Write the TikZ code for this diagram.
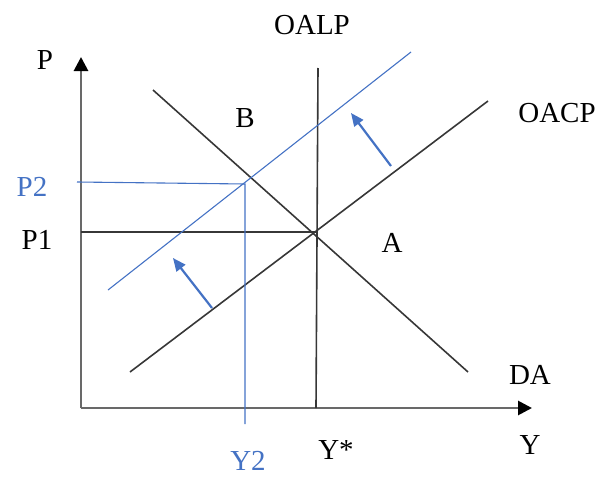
\documentclass[tikz,border=0pt]{standalone}
\usepackage{fontspec}
\setmainfont{Liberation Serif}
\usetikzlibrary{arrows.meta,calc,positioning}
\definecolor{ShiftBlue}{RGB}{68,114,196}
\definecolor{AxisGray}{RGB}{105,105,105}
\definecolor{CurveGray}{RGB}{55,55,55}

\begin{document}
\begin{tikzpicture}[x=1pt,y=-1pt,
  lbl/.style={font=\fontsize{29}{34}\selectfont,inner sep=0pt},
  curve/.style={CurveGray,line width=1.6pt},
  newline/.style={ShiftBlue,line width=1.1pt},
  push/.style={ShiftBlue,line width=2.2pt,-{Triangle[length=13pt,width=11pt]}}]
\useasboundingbox (0,0) rectangle (603,479);

% axes
\coordinate (O) at (81,408);
\coordinate (ytop) at (81,57);
\coordinate (xend) at (532,408);
\draw[AxisGray,line width=2.8pt,-{Triangle[length=14pt,width=14pt,black]}] (O) -- (ytop);
\draw[AxisGray,line width=2.8pt,-{Triangle[length=14pt,width=14pt,black]}] (O) -- (xend);

% curves
\coordinate (A) at (317,232);
\coordinate (da1) at (153,90);
\coordinate (da2) at (468,372);
\coordinate (oacp1) at (130,372);
\coordinate (oacp2) at (488,101);
\coordinate (oalp1) at (318,68);
\coordinate (oalp2) at (316,408);
\coordinate (p1ax) at (81,232);
\draw[curve] (da1) -- (da2);
\draw[curve] (oacp1) -- (oacp2);
\draw[curve] (oalp1) -- (oalp2);
\draw[curve] (p1ax) -- (A);

% shifted supply
\coordinate (new1) at (108,290);
\coordinate (new2) at (411,52);
\coordinate (p2ax) at (77,182);
\coordinate (E2) at (245,184);
\coordinate (y2ax) at (245,424);
\draw[newline] (new1) -- (new2);
\draw[newline] (p2ax) -- (E2) -- (y2ax);
\coordinate (s1) at (391,166);
\coordinate (t1) at (351,113);
\coordinate (s2) at (212,308);
\coordinate (t2) at (173,258);
\draw[push] (s1) -- (t1);
\draw[push] (s2) -- (t2);

% labels
\node[lbl] (labP) at (45,60) {P};
\node[lbl] (labP1) at (37,240) {P1};
\node[lbl,ShiftBlue] (labP2) at (32,187) {P2};
\node[lbl] (labB) at (245,118) {B};
\node[lbl] (labA) at (392,243) {A};
\node[lbl] (labOALP) at (312,25) {OALP};
\node[lbl] (labOACP) at (557,113) {OACP};
\node[lbl] (labDA) at (530,375) {DA};
\node[lbl] (labYs) at (336,450) {Y*};
\node[lbl] (labY) at (530,445) {Y};
\node[lbl,ShiftBlue] (labY2) at (248,461) {Y2};
\end{tikzpicture}
\end{document}
